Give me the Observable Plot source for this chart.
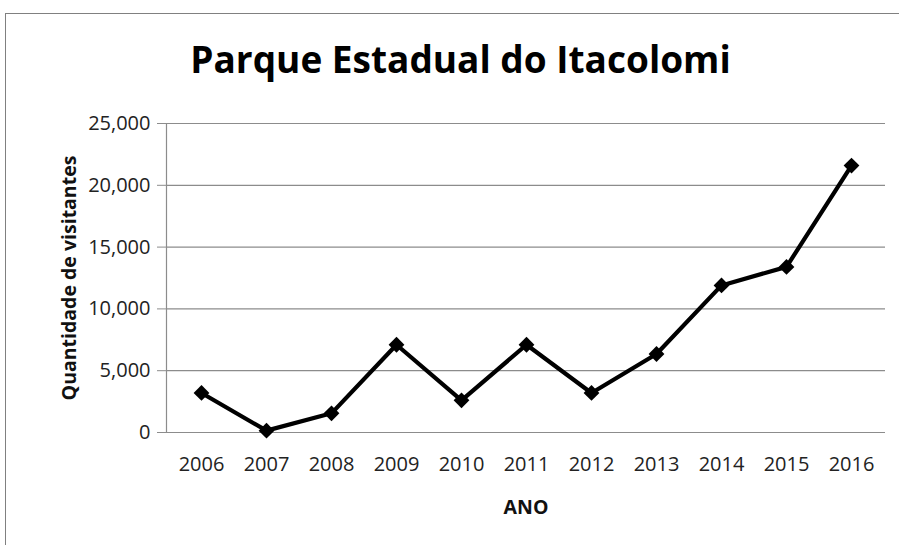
<!DOCTYPE html>
<html>
<head>
<meta charset="utf-8">
<script src="https://cdn.jsdelivr.net/npm/d3@7"></script>
<script src="https://cdn.jsdelivr.net/npm/@observablehq/plot@0.6"></script>
<style>
  html, body { margin: 0; padding: 0; background: #fff; overflow: hidden; width: 899px; height: 545px; }
  #frame { position: absolute; left: 5px; top: 13px; width: 1000px; height: 700px;
           border-top: 1px solid #808080; border-left: 1px solid #808080; }
  #title { position: absolute; left: 0; top: 0; width: 899px; height: 100px; text-align: center;
           font-family: "Open Sans", sans-serif; font-weight: 700; font-size: 37px; line-height: 1;
           color: #000; }
  #title span { position: absolute; left: 0; right: 0; top: 40px; padding-left: 22px; }
  #chart { position: absolute; left: 0; top: 100px; }
  #chart svg [aria-label="x-axis label"], #chart svg [aria-label="y-axis label"] { font-weight: 700; font-size: 19.5px; fill: #111; }
</style>
</head>
<body>
<div id="frame"></div>
<div id="title"><span>Parque Estadual do Itacolomi</span></div>
<div id="chart"></div>
<script>
const years = ["2006","2007","2008","2009","2010","2011","2012","2013","2014","2015","2016"];
const visitors = [3200, 150, 1550, 7100, 2600, 7100, 3200, 6350, 11900, 13400, 21600];
const yTicks = [0, 5000, 10000, 15000, 20000, 25000];
const xLabel = "ANO";
const yLabel = "Quantidade de visitantes";

const data = years.map((y, i) => ({year: y, value: visitors[i]}));

const chart = Plot.plot({
  width: 899,
  height: 445,
  marginTop: 23,
  marginBottom: 113,
  marginLeft: 166,
  marginRight: 14,
  style: { fontFamily: "Open Sans, sans-serif", fontSize: "20px", color: "#222", background: "transparent" },
  x: { type: "point", domain: years, padding: 0.5 },
  y: { domain: [0, 25000] },
  marks: [
    Plot.gridY(yTicks, { stroke: "#8c8c8c", strokeOpacity: 1, strokeWidth: 1.2 }),
    Plot.frame({ anchor: "left", stroke: "#8c8c8c", strokeWidth: 1.2 }),
    Plot.axisY(yTicks, { tickFormat: d3.format(","), tickSize: 9, tickPadding: 7, stroke: "#8c8c8c",
      label: yLabel, labelArrow: false, labelAnchor: "center", labelOffset: 104 }),
    Plot.axisX({ tickSize: 0, tickPadding: 24, label: xLabel, labelArrow: false, labelAnchor: "center", labelOffset: 81 }),
    Plot.line(data, { x: "year", y: "value", stroke: "#000", strokeWidth: 4.2, strokeLinejoin: "miter" }),
    Plot.dot(data, { x: "year", y: "value", symbol: "square", r: 6.3, rotate: 45, fill: "#000", stroke: "none" })
  ]
});
document.getElementById("chart").appendChild(chart);
</script>
</body>
</html>
